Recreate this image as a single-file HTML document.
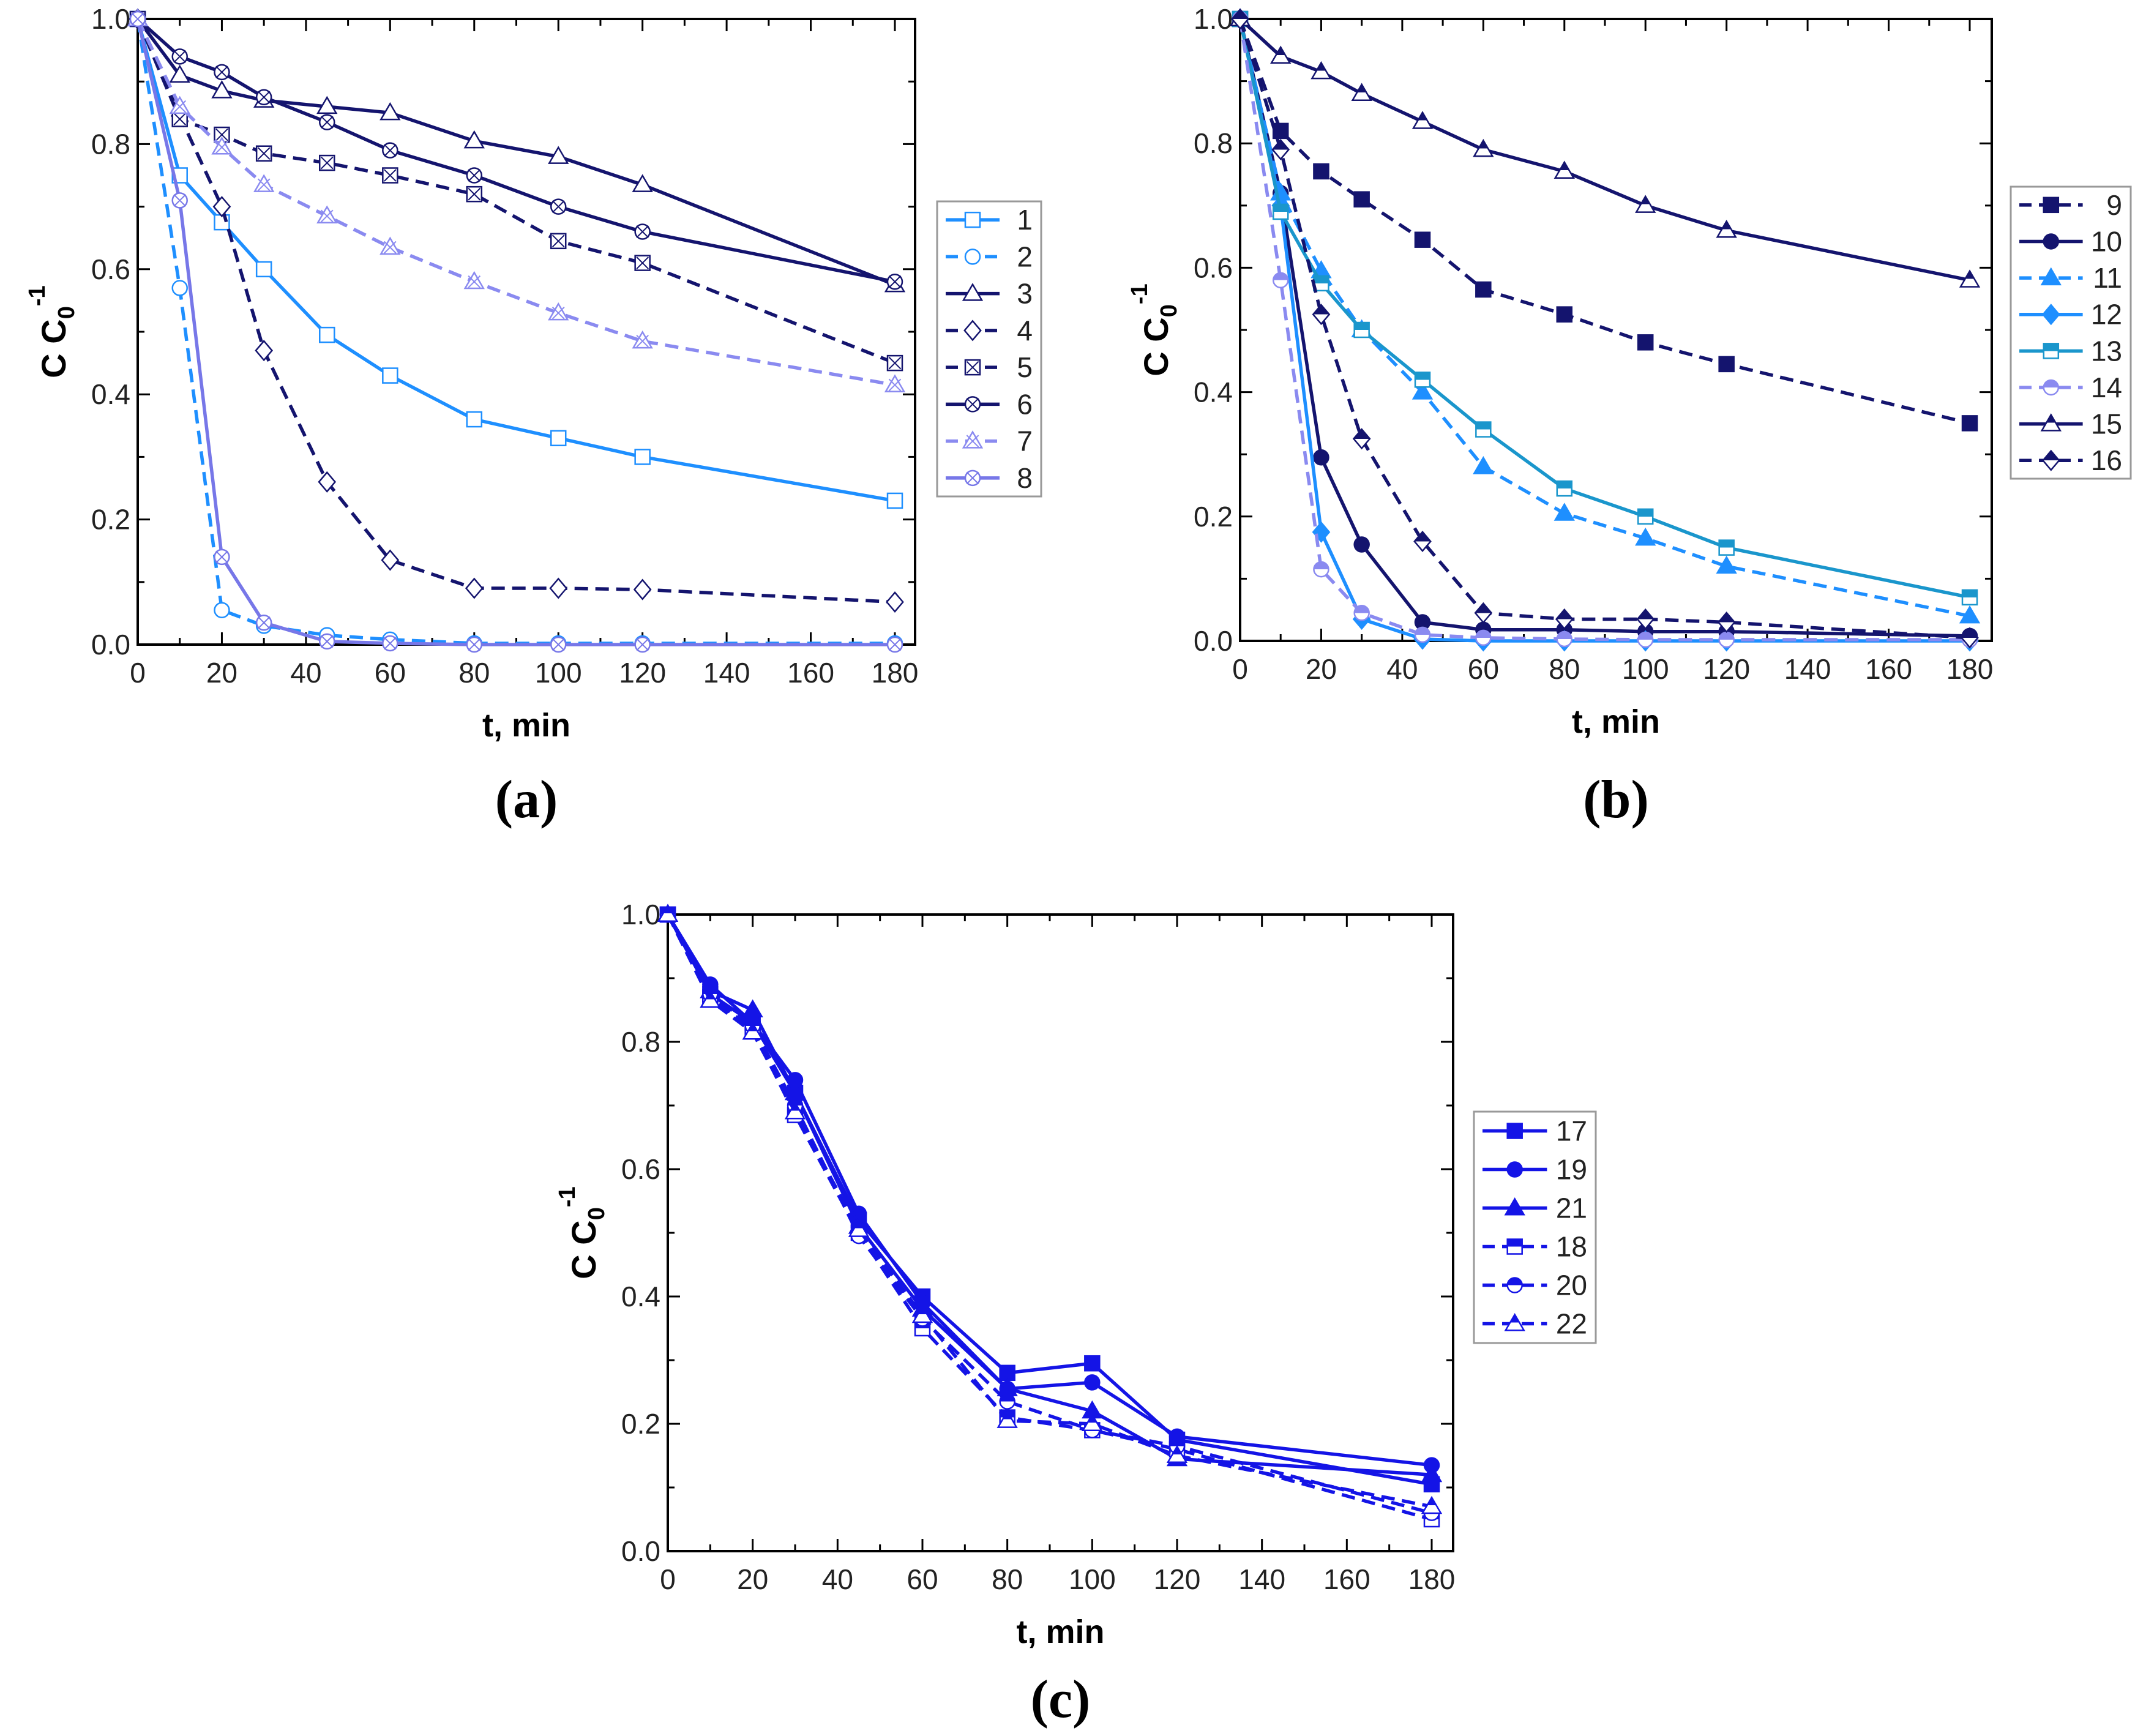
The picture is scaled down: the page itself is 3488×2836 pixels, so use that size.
<!DOCTYPE html>
<html><head><meta charset="utf-8">
<style>
html,body{margin:0;padding:0;background:#fff;}
svg{display:block;}
text{font-family:"Liberation Sans",Arial,sans-serif;}
text.cap{font-family:"Liberation Serif","Times New Roman",serif;}
</style></head>
<body>
<svg id="fig" width="3488" height="2836" viewBox="0 0 3488 2836" xmlns="http://www.w3.org/2000/svg">
<defs>
<linearGradient id="halfNavy" x1="0" y1="0" x2="0" y2="1"><stop offset="0.5" stop-color="#14146e"/><stop offset="0.5" stop-color="#fff"/></linearGradient>
<linearGradient id="halfTeal" x1="0" y1="0" x2="0" y2="1"><stop offset="0.5" stop-color="#1a96cc"/><stop offset="0.5" stop-color="#fff"/></linearGradient>
<linearGradient id="halfLav" x1="0" y1="0" x2="0" y2="1"><stop offset="0.5" stop-color="#8a8af0"/><stop offset="0.5" stop-color="#fff"/></linearGradient>
<linearGradient id="halfBlue" x1="0" y1="0" x2="0" y2="1"><stop offset="0.5" stop-color="#1414e6"/><stop offset="0.5" stop-color="#fff"/></linearGradient>
</defs>
</svg>
<script>
const times = [0,10,20,30,45,60,80,100,120,180];
const xTicks = [0,20,40,60,80,100,120,140,160,180];
const yTicks = [0.0,0.2,0.4,0.6,0.8,1.0];

const aLabels = ['1','2','3','4','5','6','7','8'];
const a1 = [1,.75,.675,.60,.495,.43,.36,.33,.30,.23];
const a2 = [1,.57,.055,.03,.015,.008,.002,.002,.002,.002];
const a3 = [1,.91,.885,.87,.86,.85,.805,.78,.735,.575];
const a4 = [1,.845,.70,.47,.26,.135,.09,.09,.088,.068];
const a5 = [1,.84,.815,.785,.77,.75,.72,.645,.61,.45];
const a6 = [1,.94,.915,.875,.835,.79,.75,.70,.66,.58];
const a7 = [1,.86,.795,.735,.685,.635,.58,.53,.485,.415];
const a8 = [1,.71,.14,.035,.005,.002,0,0,0,0];

const bLabels = ['9','10','11','12','13','14','15','16'];
const b9 = [1,.82,.755,.71,.645,.565,.525,.48,.445,.35];
const b10 = [1,.72,.295,.155,.03,.018,.018,.015,.015,.008];
const b11 = [1,.72,.595,.50,.40,.28,.205,.165,.12,.04];
const b12 = [1,.70,.175,.035,.003,0,0,0,0,0];
const b13 = [1,.69,.575,.50,.42,.34,.245,.20,.15,.07];
const b14 = [1,.58,.115,.045,.01,.005,.003,.002,.002,.002];
const b15 = [1,.94,.915,.88,.835,.79,.755,.70,.66,.58];
const b16 = [1,.79,.525,.325,.16,.045,.035,.035,.03,.005];

const cLabels = ['17','19','21','18','20','22'];
const c17 = [1,.875,.83,.72,.52,.40,.28,.295,.175,.105];
const c19 = [1,.89,.83,.74,.53,.39,.255,.265,.18,.135];
const c21 = [1,.88,.85,.72,.51,.38,.255,.22,.145,.12];
const c18 = [1,.87,.82,.685,.50,.35,.21,.19,.16,.05];
const c20 = [1,.875,.825,.70,.495,.365,.235,.19,.165,.06];
const c22 = [1,.865,.815,.69,.505,.37,.205,.20,.15,.07];

const NS='http://www.w3.org/2000/svg';
const svg=document.getElementById('fig');
function mk(tag,attrs,parent){const e=document.createElementNS(NS,tag);for(const k in attrs)e.setAttribute(k,attrs[k]);(parent||svg).appendChild(e);return e;}

const LB='#1e8fff', NAVY='#14146e', LAV='#8a8af0', PUR='#7777e8', TEAL='#1a96cc', BLUE='#1414e6';

function marker(g,shape,x,y,color,fill,cross){
  const r=12;
  let e;
  if(shape==='sq') e=mk('rect',{x:x-r,y:y-r,width:2*r,height:2*r},g);
  else if(shape==='ci') e=mk('circle',{cx:x,cy:y,r:r},g);
  else if(shape==='tr') e=mk('polygon',{points:`${x},${y-r*1.25} ${x-r*1.25},${y+r*0.9} ${x+r*1.25},${y+r*0.9}`},g);
  else if(shape==='di') e=mk('polygon',{points:`${x},${y-r*1.3} ${x+r*1.1},${y} ${x},${y+r*1.3} ${x-r*1.1},${y}`},g);
  e.setAttribute('fill',fill);e.setAttribute('stroke',color);e.setAttribute('stroke-width',2.5);
  if(cross){mk('path',{d:`M${x-r*0.8},${y-r*0.8}L${x+r*0.8},${y+r*0.8}M${x+r*0.8},${y-r*0.8}L${x-r*0.8},${y+r*0.8}`,stroke:color,'stroke-width':2,fill:'none'},g);}
}

function panel(cfg){
  const P=mk('g',{});
  
  
  const {L,R,T,B,X180}=cfg;
  const sx=v=>L+(X180-L)*v/180;
  const sy=v=>B-(B-T)*v;
  const fr=mk('rect',{x:L,y:T,width:R-L,height:B-T,fill:'none',stroke:'#000','stroke-width':4},P);
  
  
  const tg=mk('g',{stroke:'#000','stroke-width':3},P);
  
  
  for(let v=0;v<=180;v+=10){const x=sx(v);const len=v%20===0?20:11;
    mk('line',{x1:x,y1:B,x2:x,y2:B-len},tg);mk('line',{x1:x,y1:T,x2:x,y2:T+len},tg);}
  for(let i=0;i<=10;i++){const y=sy(i/10);const len=i%2===0?20:11;
    mk('line',{x1:L,y1:y,x2:L+len,y2:y},tg);mk('line',{x1:R,y1:y,x2:R-len,y2:y},tg);}
  const xl=mk('g',{},P);
  
  
  xTicks.forEach(v=>{const t=mk('text',{x:sx(v),y:B+62,'font-size':46,'text-anchor':'middle',fill:'#222'},xl);t.textContent=v;});
  const yl=mk('g',{},P);
  
  
  yTicks.forEach(v=>{const t=mk('text',{x:L-12,y:sy(v)+16,'font-size':46,'text-anchor':'end',fill:'#222'},yl);t.textContent=v.toFixed(1);});
  const xt=mk('text',{x:(L+R)/2,y:B+150,'font-size':54,'font-weight':'bold','text-anchor':'middle'},P);
  xt.textContent='t, min';
  
  
  const yt=mk('text',{transform:`translate(${L-118},${(T+B)/2}) rotate(-90)`,'font-size':56,'font-weight':'bold','text-anchor':'middle'},P);
  yt.innerHTML='C C<tspan font-size="38" dy="14">0</tspan><tspan font-size="38" dy="-48">-1</tspan>';
  
  
  const cap=mk('text',{x:(L+R)/2,y:cfg.capY,'font-size':88,'font-weight':'bold','text-anchor':'middle','class':'cap'},P);
  cap.textContent=cfg.cap;
  
  
  cfg.series.forEach((s,si)=>{
    const g=mk('g',{},P);
    
    
    const pts=s.data.map((v,i)=>`${sx(times[i])},${sy(v)}`).join(' ');
    mk('polyline',{points:pts,fill:'none',stroke:s.c,'stroke-width':5.5,'stroke-dasharray':s.dash?'22,12':'none'},g);
    s.data.forEach((v,i)=>marker(g,s.m,sx(times[i]),sy(v),s.c,s.f,s.x));
  });
  const lg=mk('g',{},P);
  
  
  const [lx1,ly1,lx2,ly2]=cfg.leg;
  mk('rect',{x:lx1,y:ly1,width:lx2-lx1,height:ly2-ly1,fill:'#fff',stroke:'#999','stroke-width':3},lg);
  const n=cfg.series.length, step=(ly2-ly1)/n;
  cfg.series.forEach((s,i)=>{
    const e=mk('g',{},lg);
    
    
    const y=ly1+step*(i+0.5);
    const x1=lx1+14, x2=lx1+(lx2-lx1)*0.6;
    mk('line',{x1:x1,y1:y,x2:x2,y2:y,stroke:s.c,'stroke-width':5.5,'stroke-dasharray':s.dash?'20,12':'none'},e);
    marker(e,s.m,(x1+x2)/2,y,s.c,s.f,s.x);
    const t=mk('text',{x:lx2-14,y:y+16,'font-size':46,'text-anchor':'end',fill:'#222'},e);t.textContent=cfg.labels[i];
  });
}

panel({name:'panel-a',cap:'(a)',capY:1335,L:225,R:1495,T:31,B:1053,X180:1462,leg:[1531,329,1701,811],labels:aLabels,series:[
 {data:a1,c:LB,m:'sq',f:'#fff',dash:false},
 {data:a2,c:LB,m:'ci',f:'#fff',dash:true},
 {data:a3,c:NAVY,m:'tr',f:'#fff',dash:false},
 {data:a4,c:NAVY,m:'di',f:'#fff',dash:true},
 {data:a5,c:NAVY,m:'sq',f:'#fff',dash:true,x:true},
 {data:a6,c:NAVY,m:'ci',f:'#fff',dash:false,x:true},
 {data:a7,c:LAV,m:'tr',f:'#fff',dash:true,x:true},
 {data:a8,c:PUR,m:'ci',f:'#fff',dash:false,x:true}
]});
panel({name:'panel-b',cap:'(b)',capY:1335,L:2026,R:3254,T:31,B:1047,X180:3218,leg:[3285,305,3481,782],labels:bLabels,series:[
 {data:b9,c:NAVY,m:'sq',f:NAVY,dash:true},
 {data:b10,c:NAVY,m:'ci',f:NAVY,dash:false},
 {data:b11,c:LB,m:'tr',f:LB,dash:true},
 {data:b12,c:LB,m:'di',f:LB,dash:false},
 {data:b13,c:TEAL,m:'sq',f:'url(#halfTeal)',dash:false},
 {data:b14,c:LAV,m:'ci',f:'url(#halfLav)',dash:true},
 {data:b15,c:NAVY,m:'tr',f:'url(#halfNavy)',dash:false},
 {data:b16,c:NAVY,m:'di',f:'url(#halfNavy)',dash:true}
]});
panel({name:'panel-c',cap:'(c)',capY:2805,L:1091,R:2374,T:1494,B:2534,X180:2339,leg:[2408,1816,2607,2194],labels:cLabels,series:[
 {data:c17,c:BLUE,m:'sq',f:BLUE,dash:false},
 {data:c19,c:BLUE,m:'ci',f:BLUE,dash:false},
 {data:c21,c:BLUE,m:'tr',f:BLUE,dash:false},
 {data:c18,c:BLUE,m:'sq',f:'url(#halfBlue)',dash:true},
 {data:c20,c:BLUE,m:'ci',f:'url(#halfBlue)',dash:true},
 {data:c22,c:BLUE,m:'tr',f:'url(#halfBlue)',dash:true}
]});
</script>
</body></html>
